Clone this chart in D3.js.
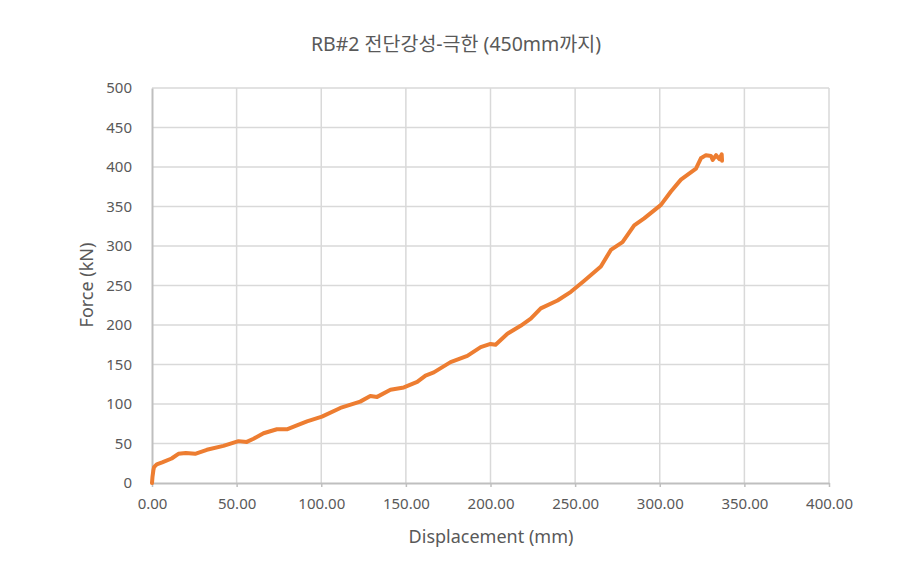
<!DOCTYPE html>
<html>
<head>
<meta charset="utf-8">
<script src="https://cdn.jsdelivr.net/npm/d3@7"></script>
<style>
  body { margin: 0; background: #fff; }
  text { font-family: "Noto Sans", "Noto Sans CJK KR", sans-serif; }
</style>
</head>
<body>
<div id="chart"></div>
<script>
// Data
const displacement = [0, 0.3, 0.8, 1.2, 2.8, 6, 11.6, 15.6, 20, 25.5, 32.4, 42.2, 51.1, 56, 60, 65.9, 73.8, 79.7, 85.6, 91.6, 100.4,
  111.3, 123, 129, 133, 140.9, 148.8, 156.7, 161.6, 166.5, 176.4, 186.3, 194.2, 200, 203, 210, 217.8, 223.8, 229.7,
  239.6, 247.5, 255.4, 265.2, 271.1, 278, 284.9, 290.8, 300.7, 306.6, 312.5, 321.4, 324.3, 327.3, 330.3, 331.3,
  333.3, 335.2, 336.6, 336.8];
const force = [0, 8, 16, 20, 23.5, 26, 31, 37, 38, 37, 42, 47, 53, 52, 56, 63, 68, 68, 73, 78, 84,
  95, 103, 110, 109, 118, 121, 128, 136, 140, 153, 161, 172, 176, 175, 189, 199, 208, 221,
  231, 242, 256, 274, 295, 305, 326, 335, 352, 369, 384, 398, 411, 415, 414, 409,
  415, 410, 416, 408];
const xTicks = [0, 50, 100, 150, 200, 250, 300, 350, 400];
const yTicks = [0, 50, 100, 150, 200, 250, 300, 350, 400, 450, 500];

const width = 906, height = 570;
const margin = {top: 88, right: 77, bottom: 87, left: 152};

const svg = d3.select("#chart").append("svg")
  .attr("width", width)
  .attr("height", height);

const x = d3.scaleLinear().domain([0, 400]).range([margin.left, width - margin.right]);
const y = d3.scaleLinear().domain([0, 500]).range([height - margin.bottom, margin.top]);

// Gridlines
svg.append("g")
  .selectAll("line.h")
  .data(yTicks.slice(1))
  .join("line")
  .attr("x1", x(0)).attr("x2", x(400))
  .attr("y1", d => y(d)).attr("y2", d => y(d))
  .attr("stroke", "#d9d9d9").attr("stroke-width", 1.5);
svg.append("g")
  .selectAll("line.v")
  .data(xTicks.slice(1))
  .join("line")
  .attr("x1", d => x(d)).attr("x2", d => x(d))
  .attr("y1", y(0)).attr("y2", y(500))
  .attr("stroke", "#d9d9d9").attr("stroke-width", 1.5);

// Axes
const xAxis = svg.append("g")
  .attr("transform", `translate(0,${y(0)})`)
  .call(d3.axisBottom(x).tickValues(xTicks).tickFormat(d3.format(".2f")).tickSizeInner(4).tickSizeOuter(0).tickPadding(11));
const yAxis = svg.append("g")
  .attr("transform", `translate(${x(0)},0)`)
  .call(d3.axisLeft(y).tickValues(yTicks).tickSize(0).tickPadding(20));

[xAxis, yAxis].forEach(g => {
  g.select(".domain").attr("stroke", "#bfbfbf").attr("stroke-width", 2);
  g.selectAll(".tick line").attr("stroke", "#bfbfbf").attr("stroke-width", 1.5);
  g.selectAll(".tick text").attr("fill", "#595959").style("font-size", "15px");
});

// Series line
const line = d3.line()
  .x((d, i) => x(displacement[i]))
  .y(d => y(d));
svg.append("path")
  .datum(force)
  .attr("fill", "none")
  .attr("stroke", "#ed7d31")
  .attr("stroke-width", 4)
  .attr("stroke-linejoin", "round")
  .attr("stroke-linecap", "round")
  .attr("d", line);

// Title
svg.append("text")
  .attr("x", 456).attr("y", 51)
  .attr("text-anchor", "middle")
  .attr("fill", "#595959")
  .style("font-size", "19.5px")
  .text("RB#2 전단강성-극한 (450mm까지)");

// Axis labels
svg.append("text")
  .attr("x", 491).attr("y", 543)
  .attr("text-anchor", "middle")
  .attr("fill", "#595959")
  .style("font-size", "18px")
  .text("Displacement (mm)");
svg.append("text")
  .attr("transform", "translate(93,285) rotate(-90)")
  .attr("text-anchor", "middle")
  .attr("fill", "#595959")
  .style("font-size", "18px")
  .text("Force (kN)");
</script>
</body>
</html>
